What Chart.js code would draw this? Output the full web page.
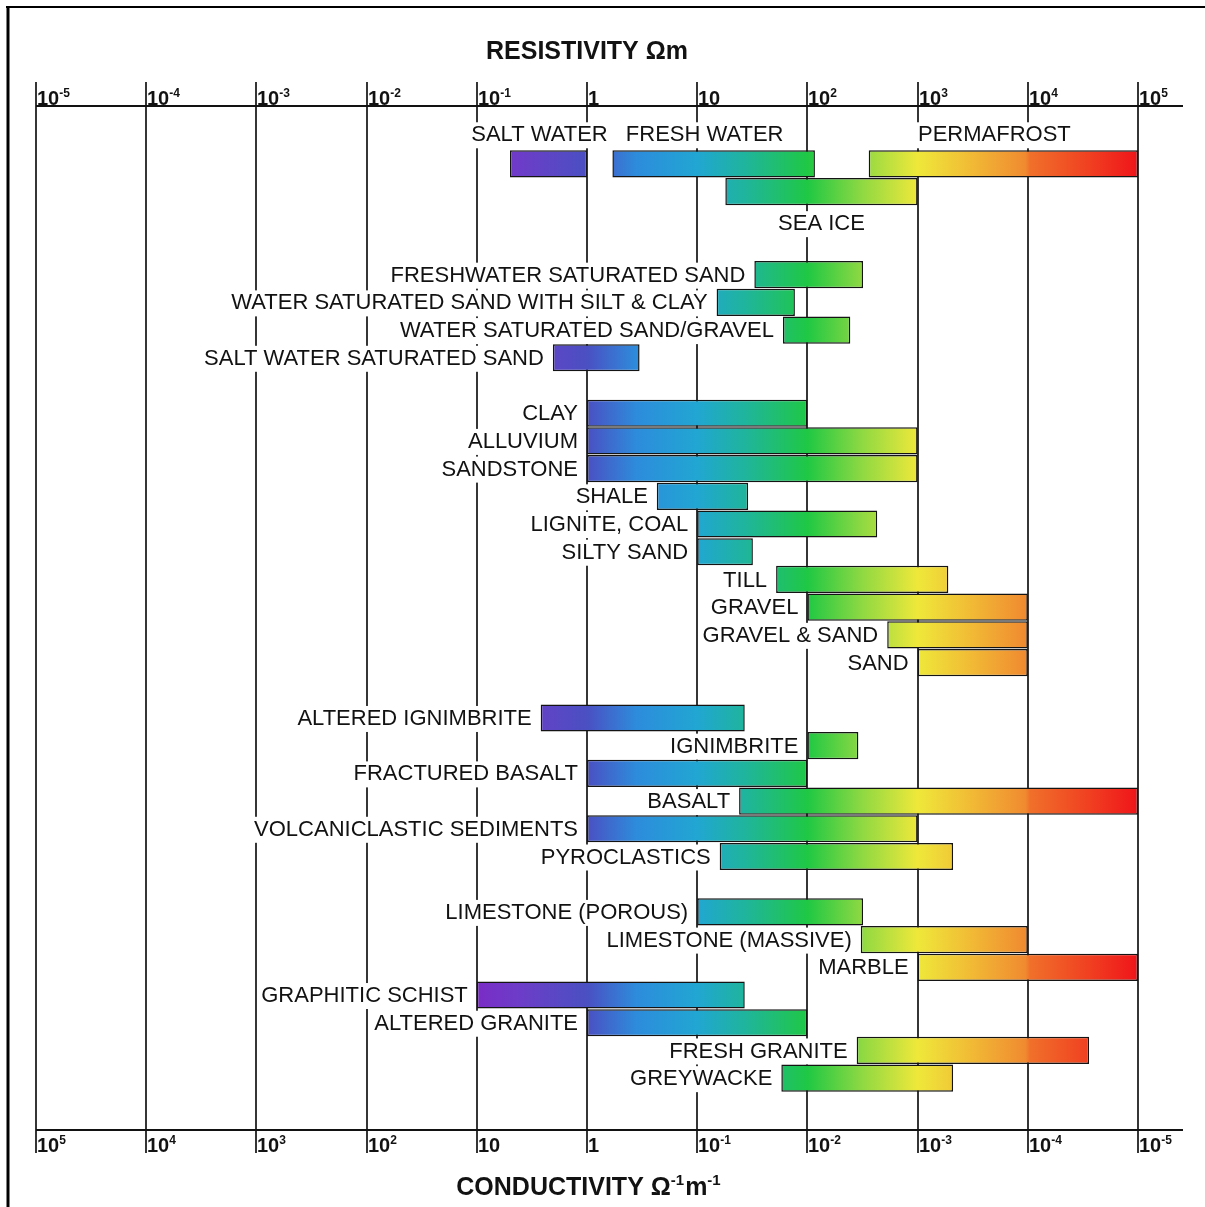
<!DOCTYPE html>
<html>
<head>
<meta charset="utf-8">
<script src="https://cdn.jsdelivr.net/npm/chart.js@4.4.1/dist/chart.umd.min.js"></script>
<style>
  html, body { margin: 0; padding: 0; background: #ffffff; }
  #wrap { width: 1205px; height: 1207px; }
</style>
</head>
<body>
<div id="wrap"><canvas id="chart" width="1205" height="1207"></canvas></div>
<script>
// Rows of the chart, top to bottom ('gap' rows are empty spacers between groups)
const rows = [
  'WATER', 'SEA ICE', 'gap-1', 'gap-2',
  'FRESHWATER SATURATED SAND', 'WATER SATURATED SAND WITH SILT & CLAY',
  'WATER SATURATED SAND/GRAVEL', 'SALT WATER SATURATED SAND', 'gap-3',
  'CLAY', 'ALLUVIUM', 'SANDSTONE', 'SHALE', 'LIGNITE, COAL', 'SILTY SAND',
  'TILL', 'GRAVEL', 'GRAVEL & SAND', 'SAND', 'gap-4',
  'ALTERED IGNIMBRITE', 'IGNIMBRITE', 'FRACTURED BASALT', 'BASALT',
  'VOLCANICLASTIC SEDIMENTS', 'PYROCLASTICS', 'gap-5',
  'LIMESTONE (POROUS)', 'LIMESTONE (MASSIVE)', 'MARBLE',
  'GRAPHITIC SCHIST', 'ALTERED GRANITE', 'FRESH GRANITE', 'GREYWACKE'
];

// Materials and their resistivity ranges (ohm-metres)
const materials = [
  'SALT WATER', 'FRESH WATER', 'PERMAFROST', 'SEA ICE',
  'FRESHWATER SATURATED SAND', 'WATER SATURATED SAND WITH SILT & CLAY',
  'WATER SATURATED SAND/GRAVEL', 'SALT WATER SATURATED SAND',
  'CLAY', 'ALLUVIUM', 'SANDSTONE', 'SHALE', 'LIGNITE, COAL', 'SILTY SAND',
  'TILL', 'GRAVEL', 'GRAVEL & SAND', 'SAND',
  'ALTERED IGNIMBRITE', 'IGNIMBRITE', 'FRACTURED BASALT', 'BASALT',
  'VOLCANICLASTIC SEDIMENTS', 'PYROCLASTICS',
  'LIMESTONE (POROUS)', 'LIMESTONE (MASSIVE)', 'MARBLE',
  'GRAPHITIC SCHIST', 'ALTERED GRANITE', 'FRESH GRANITE', 'GREYWACKE'
];
const resistivityLow = [
  0.2, 1.7, 360, 18,
  33, 15, 60, 0.49,
  1, 1, 1, 4.3, 10, 10,
  52, 100, 530, 1000,
  0.38, 100, 1, 24,
  1, 16,
  10, 305, 1000,
  0.1, 1, 280, 58
];
const resistivityHigh = [
  1, 117, 100000, 1000,
  320, 77, 245, 3,
  100, 1000, 1000, 29, 430, 32,
  1900, 10000, 10000, 10000,
  27, 290, 100, 100000,
  1000, 2100,
  320, 10000, 100000,
  27, 100, 36000, 2100
];
// The three water-type ranges share the top row
const sharedRow = { 'SALT WATER': 'WATER', 'FRESH WATER': 'WATER', 'PERMAFROST': 'WATER' };

// Axis decades and their tick labels ('^' marks the exponent)
const resistivityDecades = [1e-5, 1e-4, 1e-3, 1e-2, 1e-1, 1, 10, 1e2, 1e3, 1e4, 1e5];
const resistivityTickLabels = ['10^-5', '10^-4', '10^-3', '10^-2', '10^-1', '1', '10', '10^2', '10^3', '10^4', '10^5'];
const conductivityDecades = [1e5, 1e4, 1e3, 1e2, 10, 1, 1e-1, 1e-2, 1e-3, 1e-4, 1e-5];
const conductivityTickLabels = ['10^5', '10^4', '10^3', '10^2', '10', '1', '10^-1', '10^-2', '10^-3', '10^-4', '10^-5'];

// Colour ramp along log10(resistivity)
const spectrumStops = [
  [-1.0, '#7a2cc6'], [-0.6, '#6c3dc8'], [0.0, '#4a50c2'], [0.45, '#2d8cdc'],
  [1.0, '#21a6d2'], [1.45, '#1fb59a'], [2.0, '#1fc844'], [2.5, '#8fd942'],
  [3.0, '#efe83a'], [3.5, '#f1b935'], [3.98, '#f08a30'], [4.02, '#f0702a'],
  [4.5, '#f04522'], [5.0, '#f0141a']
];

const FONT = '"Liberation Sans", Arial, Helvetica, sans-serif';
const INK = '#121212';

let cachedGradient = null, cachedKey = '';
function spectrum(chart) {
  const xr = chart.scales.x;
  if (!xr || !chart.chartArea) return '#888';
  const x0 = xr.getPixelForValue(0.1), x1 = xr.getPixelForValue(1e5);
  const key = x0 + ':' + x1;
  if (cachedGradient && cachedKey === key) return cachedGradient;
  const g = chart.ctx.createLinearGradient(x0, 0, x1, 0);
  spectrumStops.forEach(([lg, col]) => g.addColorStop((lg + 1) / 6, col));
  cachedGradient = g; cachedKey = key;
  return g;
}

// Draws text made of [string, isSuperscript] parts
function partsWidth(ctx, parts, size) {
  let w = 0;
  parts.forEach(([t, sup]) => {
    ctx.font = 'bold ' + (sup ? Math.round(size * 0.6) : size) + 'px ' + FONT;
    w += ctx.measureText(t).width + (sup ? 1 : 0);
  });
  return w;
}
function drawParts(ctx, parts, x, baseline, size) {
  ctx.textAlign = 'left';
  ctx.textBaseline = 'alphabetic';
  parts.forEach(([t, sup]) => {
    const s = sup ? Math.round(size * 0.6) : size;
    ctx.font = 'bold ' + s + 'px ' + FONT;
    ctx.fillText(t, x, sup ? baseline - size * 0.42 : baseline);
    x += ctx.measureText(t).width + (sup ? 1 : 0);
  });
}
function powerParts(label) {
  const i = label.indexOf('^');
  return i < 0 ? [[label, false]] : [[label.slice(0, i), false], [label.slice(i + 1), true]];
}

const labelPlacement = { 'SALT WATER': 'above', 'FRESH WATER': 'above', 'PERMAFROST': 'above', 'SEA ICE': 'below' };

const decorPlugin = {
  id: 'decor',
  beforeDatasetsDraw(chart) {
    const ctx = chart.ctx, ca = chart.chartArea;
    const xr = chart.scales.x, xc = chart.scales.xc;
    const topY = ca.top - 44, botY = ca.bottom + 38;
    const leftX = xr.getPixelForValue(1e-5), rightX = xr.getPixelForValue(1e5) + 45;
    ctx.save();

    // outer frame (top and left edges)
    ctx.strokeStyle = '#000';
    ctx.lineWidth = 2;
    ctx.beginPath(); ctx.moveTo(6, 7); ctx.lineTo(1205, 7); ctx.stroke();
    ctx.lineWidth = 3;
    ctx.beginPath(); ctx.moveTo(8, 6); ctx.lineTo(8, 1207); ctx.stroke();

    // decade grid lines and tick marks
    ctx.strokeStyle = INK;
    ctx.lineWidth = 1.7;
    resistivityDecades.forEach(v => {
      const px = Math.round(xr.getPixelForValue(v));
      ctx.beginPath(); ctx.moveTo(px, topY - 24); ctx.lineTo(px, botY); ctx.stroke();
    });
    conductivityDecades.forEach(v => {
      const px = Math.round(xc.getPixelForValue(v));
      ctx.beginPath(); ctx.moveTo(px, botY); ctx.lineTo(px, botY + 23); ctx.stroke();
    });

    // axis lines
    ctx.lineWidth = 2.2;
    ctx.beginPath(); ctx.moveTo(leftX, topY); ctx.lineTo(rightX, topY); ctx.stroke();
    ctx.beginPath(); ctx.moveTo(leftX, botY); ctx.lineTo(rightX, botY); ctx.stroke();

    // tick labels
    ctx.fillStyle = INK;
    resistivityDecades.forEach((v, i) => {
      const px = Math.round(xr.getPixelForValue(v));
      drawParts(ctx, powerParts(resistivityTickLabels[i]), px + 1, topY - 1, 20);
    });
    conductivityDecades.forEach((v, i) => {
      const px = Math.round(xc.getPixelForValue(v));
      drawParts(ctx, powerParts(conductivityTickLabels[i]), px + 1, botY + 22, 20);
    });

    // axis titles
    const midX = (xr.getPixelForValue(1e-5) + xr.getPixelForValue(1e5)) / 2;
    const t1 = [['RESISTIVITY \u03A9m', false]];
    drawParts(ctx, t1, midX - partsWidth(ctx, t1, 25) / 2, 59, 25);
    const t2 = [['CONDUCTIVITY \u03A9', false], ['-1', true], ['m', false], ['-1', true]];
    drawParts(ctx, t2, midX - partsWidth(ctx, t2, 25) / 2 + 2, 1195, 25);

    // material labels on white boxes
    const meta = chart.getDatasetMeta(0);
    ctx.font = '22px ' + FONT;
    ctx.textBaseline = 'middle';
    meta.data.forEach((el, i) => {
      const name = materials[i];
      const left = Math.min(el.x, el.base), right = Math.max(el.x, el.base);
      const w = ctx.measureText(name).width;
      const place = labelPlacement[name] || 'left';
      let tx, ty, align;
      if (place === 'above') { tx = (left + right) / 2 - 9; ty = el.y - el.height / 2 - 15; align = 'center'; }
      else if (place === 'below') { tx = (left + right) / 2; ty = el.y + el.height / 2 + 19; align = 'center'; }
      else { tx = left - 9; ty = el.y + 1; align = 'right'; }
      const bx = align === 'center' ? tx - w / 2 - 3 : tx - w - 3;
      ctx.fillStyle = '#ffffff';
      ctx.fillRect(bx, ty - 13, w + 6, 26);
      ctx.fillStyle = INK;
      ctx.textAlign = align;
      ctx.fillText(name, tx, ty);
    });
    ctx.restore();
  }
};

const barData = materials.map((m, i) => ({
  y: sharedRow[m] || m,
  x: [resistivityLow[i], resistivityHigh[i]]
}));

new Chart(document.getElementById('chart'), {
  type: 'bar',
  data: {
    labels: rows,
    datasets: [{
      data: barData,
      backgroundColor: ctx => spectrum(ctx.chart),
      borderColor: '#141414',
      borderWidth: 1.5,
      borderSkipped: false,
      categoryPercentage: 1,
      barPercentage: 0.98
    }]
  },
  options: {
    indexAxis: 'y',
    responsive: false,
    animation: false,
    devicePixelRatio: 1,
    layout: { padding: { left: 36, right: 67, top: 150, bottom: 115 } },
    plugins: { legend: { display: false }, tooltip: { enabled: false } },
    scales: {
      x: { type: 'logarithmic', position: 'top', min: 1e-5, max: 1e5, display: false },
      xc: { type: 'logarithmic', axis: 'x', position: 'bottom', reverse: true, min: 1e-5, max: 1e5, display: false },
      y: { type: 'category', labels: rows, offset: true, display: false }
    }
  },
  plugins: [decorPlugin]
});
</script>
</body>
</html>
